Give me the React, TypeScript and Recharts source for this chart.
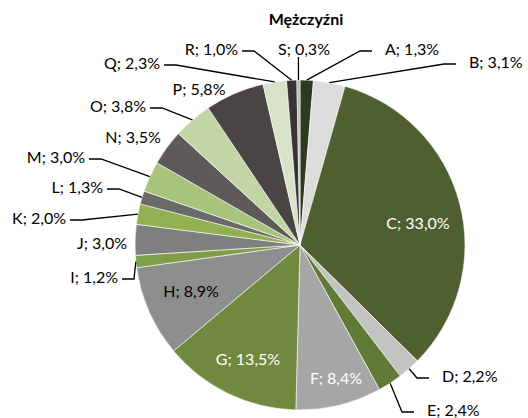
import React from 'react';
import { PieChart, Pie, Cell } from 'recharts';

const categories = ['A', 'B', 'C', 'D', 'E', 'F', 'G', 'H', 'I', 'J', 'K', 'L', 'M', 'N', 'O', 'P', 'Q', 'R', 'S'];
const shares = [1.3, 3.1, 33.0, 2.2, 2.4, 8.4, 13.5, 8.9, 1.2, 3.0, 2.0, 1.3, 3.0, 3.5, 3.8, 5.8, 2.3, 1.0, 0.3];
const colors = [
  '#2E3A1F', '#DCDCDC', '#4F5F2F', '#C3C3C3', '#617B37', '#A6A6A6', '#71893F', '#8E8E8E', '#7E9F47', '#7F7F7F',
  '#91B052', '#6C6969', '#A8C47B', '#5E5A5A', '#C2D5A4', '#4A4545', '#D8E3C7', '#383434', '#B5B5B5',
];

const data = categories.map((name, i) => ({ name, value: shares[i] }));

const CX = 300;
const CY = 245;
const R = 165;
const FONT = 'Lato, "Open Sans", sans-serif';

// label placement relative to the pie centre: [dx, dy, anchor, kind, colour]
// kind: 'in' inside slice, 'free' no leader, 'line' elbow leader, 'up' vertical leader
type Place = [number, number, 'start' | 'middle' | 'end', 'in' | 'free' | 'line' | 'up', string];
const labelPlaces: Record<string, Place> = {
  A: [85, -197, 'start', 'line', '#000'],
  B: [169, -184, 'start', 'line', '#000'],
  C: [118, -23, 'middle', 'in', '#fff'],
  D: [142, 130, 'start', 'line', '#000'],
  E: [127, 164, 'start', 'line', '#000'],
  F: [36, 132, 'middle', 'in', '#fff'],
  G: [-52, 113, 'middle', 'in', '#fff'],
  H: [-109, 45, 'middle', 'in', '#000'],
  I: [-182, 31, 'end', 'line', '#000'],
  J: [-198, -3, 'middle', 'free', '#000'],
  K: [-234, -28, 'end', 'line', '#000'],
  L: [-197, -59, 'end', 'line', '#000'],
  M: [-215, -89, 'end', 'line', '#000'],
  N: [-167, -109, 'middle', 'free', '#000'],
  O: [-154, -140, 'end', 'line', '#000'],
  P: [-101, -157, 'middle', 'free', '#000'],
  Q: [-140, -183, 'end', 'line', '#000'],
  R: [-62, -197, 'end', 'line', '#000'],
  S: [4, -197, 'middle', 'up', '#000'],
};

const RAD = Math.PI / 180;

const renderLabel = (props: any) => {
  const { cx, cy, midAngle, outerRadius, name, value } = props;
  const place = labelPlaces[name];
  if (!place) return null;
  const [dx, dy, anchor, kind, fill] = place;
  const tx = cx + dx;
  const ty = cy + dy;
  const sx = cx + outerRadius * Math.cos(-midAngle * RAD);
  const sy = cy + outerRadius * Math.sin(-midAngle * RAD);
  const text = `${name}; ${Number(value).toFixed(1).replace('.', ',')}%`;
  let line: React.ReactNode = null;
  if (kind === 'line') {
    const ly = ty + 3;
    const endX = anchor === 'start' ? tx - 13 : tx + 4;
    const elbowX = anchor === 'start' ? tx - 25 : tx + 16;
    line = <polyline points={`${endX},${ly} ${elbowX},${ly} ${sx},${sy}`} fill="none" stroke="#000" strokeWidth={1.3} />;
  } else if (kind === 'up') {
    line = <line x1={sx} y1={ty + 9} x2={sx} y2={sy} stroke="#000" strokeWidth={1.3} />;
  }
  return (
    <g key={`lbl-${name}`}>
      {line}
      <text x={tx} y={ty} textAnchor={anchor} dominantBaseline="central" fill={fill} fontSize={16} fontFamily={FONT}>
        {text}
      </text>
    </g>
  );
};

export default function App() {
  return (
    <div style={{ position: 'fixed', left: 0, top: 0, width: 528, height: 418, background: '#fff' }}>
      <PieChart width={528} height={418} margin={{ top: 0, right: 0, bottom: 0, left: 0 }}>
        <text x={306} y={18} textAnchor="middle" dominantBaseline="central" fontSize={16} fontWeight={700} fontFamily={FONT} fill="#000">
          Mężczyźni
        </text>
        <Pie
          data={data}
          dataKey="value"
          nameKey="name"
          cx={CX}
          cy={CY}
          outerRadius={R}
          startAngle={90}
          endAngle={-270}
          stroke="#fff"
          strokeWidth={0.6}
          label={renderLabel}
          labelLine={false}
          isAnimationActive={false}
        >
          {data.map((d, i) => (
            <Cell key={d.name} fill={colors[i]} />
          ))}
        </Pie>
      </PieChart>
    </div>
  );
}
